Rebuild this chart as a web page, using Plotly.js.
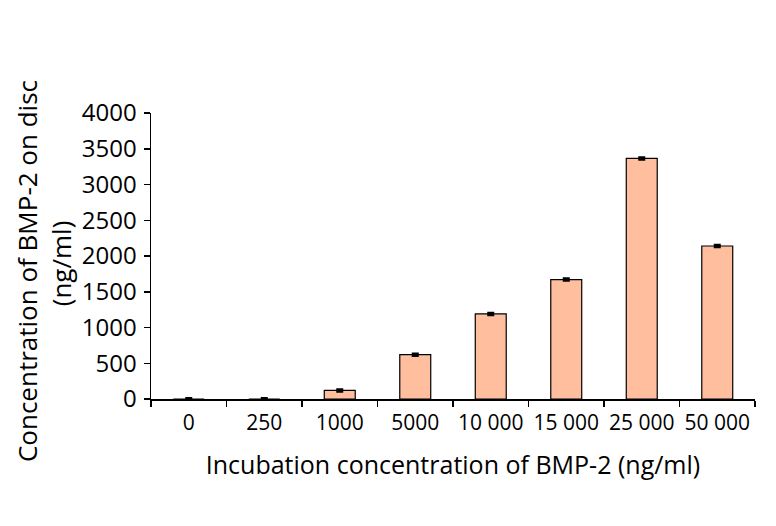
<!DOCTYPE html>
<html>
<head>
<meta charset="utf-8">
<script src="https://cdn.plot.ly/plotly-3.0.1.min.js"></script>
<style>html,body{margin:0;padding:0;background:#fff;}#chart{width:776px;height:526px;}</style>
</head>
<body>
<div id="chart"></div>
<script>
const categories = ["0", "250", "1000", "5000", "10 000", "15 000", "25 000", "50 000"];
const values = [0, 0, 120, 620, 1190, 1670, 3365, 2140];
const errors = [12, 12, 15, 15, 15, 15, 15, 15];
const yTicks = [0, 500, 1000, 1500, 2000, 2500, 3000, 3500, 4000];
const xTitle = "Incubation concentration of BMP-2 (ng/ml)";
const yTitleLines = ["Concentration of BMP-2 on disc", "(ng/ml)"];

const font = "'Open Sans', 'Noto Sans', sans-serif";

const trace = {
  type: "bar",
  x: categories,
  y: values,
  width: 0.41,
  marker: {color: "#FFBF9F", line: {color: "#000", width: 1.2}},
  error_y: {type: "data", array: errors, visible: true, color: "#000", thickness: 2.4, width: 3.5}
};

const layout = {
  width: 776, height: 526,
  margin: {l: 151, r: 21, t: 113, b: 127},
  paper_bgcolor: "#fff", plot_bgcolor: "#fff",
  showlegend: false,
  font: {family: font, color: "#000", size: 18},
  xaxis: {
    type: "category",
    tickson: "boundaries",
    ticks: "outside", ticklen: 6, tickwidth: 1.5, tickcolor: "#000",
    showline: true, linecolor: "#000", linewidth: 1.5,
    showgrid: false, zeroline: false,
    ticklabelstandoff: 4,
    tickfont: {family: font, size: 21, color: "#000"},
    title: {text: xTitle, font: {family: font, size: 25, color: "#000"}, standoff: 22}
  },
  yaxis: {
    range: [0, 4000],
    tickvals: yTicks,
    ticktext: yTicks.map(String),
    ticks: "outside", ticklen: 6, tickwidth: 1.5, tickcolor: "#000",
    showline: true, linecolor: "#000", linewidth: 1.5,
    showgrid: false, zeroline: false,
    ticklabelstandoff: 2,
    tickfont: {family: font, size: 24, color: "#000"}
  },
  annotations: [{
    text: yTitleLines[0],
    xref: "paper", yref: "paper",
    x: -0.205, y: 0.448,
    xanchor: "center", yanchor: "middle",
    textangle: -90, showarrow: false,
    font: {family: font, size: 26, color: "#000"}
  }, {
    text: yTitleLines[1],
    xref: "paper", yref: "paper",
    x: -0.150, y: 0.476,
    xanchor: "center", yanchor: "middle",
    textangle: -90, showarrow: false,
    font: {family: font, size: 26, color: "#000"}
  }]
};

Plotly.newPlot("chart", [trace], layout, {displayModeBar: false, staticPlot: true});
</script>
</body>
</html>
